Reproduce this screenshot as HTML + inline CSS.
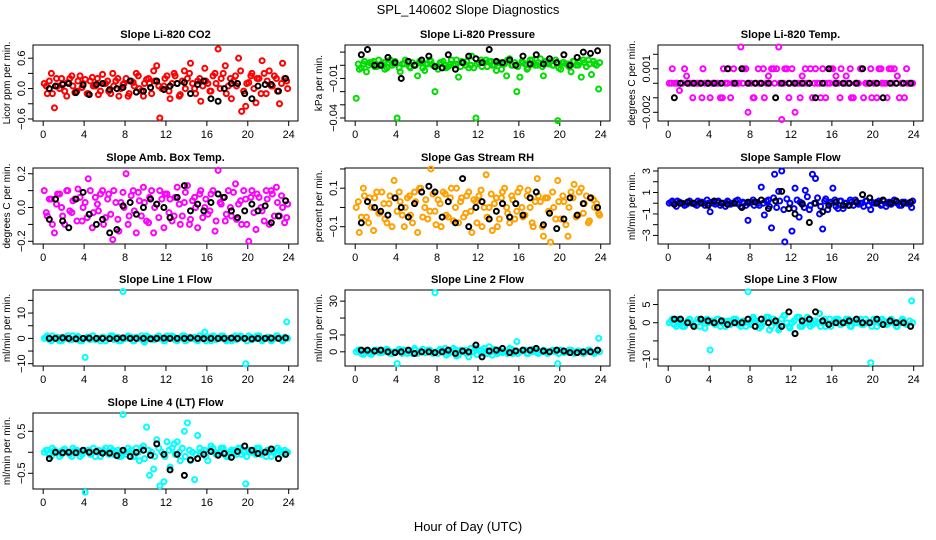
<!DOCTYPE html>
<html><head><meta charset="utf-8"><style>
body{margin:0;background:#fff;}
svg{display:block;font-family:"Liberation Sans",sans-serif;}
</style></head><body>
<svg id="chart" width="936" height="540" viewBox="0 0 936 540">
<rect x="0" y="0" width="936" height="540" fill="#fff"/>
<text x="468" y="14" text-anchor="middle" font-size="13">SPL_140602  Slope Diagnostics</text>
<text x="468" y="531" text-anchor="middle" font-size="13">Hour of Day (UTC)</text>
</svg>
<script>
const hc=[0.1,0.4,0.8,1.1,1.4,1.8,2.1,2.4,2.8,3.1,3.4,3.8,4.1,4.4,4.8,5.1,5.4,5.8,6.1,6.4,6.8,7.1,7.4,7.8,8.1,8.4,8.8,9.1,9.4,9.8,10.1,10.4,10.8,11.1,11.4,11.8,12.1,12.4,12.8,13.1,13.4,13.8,14.1,14.4,14.8,15.1,15.4,15.8,16.1,16.4,16.8,17.1,17.4,17.8,18.1,18.4,18.8,19.1,19.4,19.8,20.1,20.4,20.8,21.1,21.4,21.8,22.1,22.4,22.8,23.1,23.4,23.8];
const hc2=[0.3,0.6,0.9,1.3,1.6,1.9,2.3,2.6,2.9,3.3,3.6,3.9,4.3,4.6,4.9,5.3,5.6,5.9,6.3,6.6,6.9,7.3,7.6,7.9,8.3,8.6,8.9,9.3,9.6,9.9,10.3,10.6,10.9,11.3,11.6,11.9,12.3,12.6,12.9,13.3,13.6,13.9,14.3,14.6,14.9,15.3,15.6,15.9,16.3,16.6,16.9,17.3,17.6,17.9,18.3,18.6,18.9,19.3,19.6,19.9,20.3,20.6,20.9,21.3,21.6,21.9,22.3,22.6,22.9,23.3,23.6,23.9];
const hb=[0.6,1.2,1.9,2.5,3.2,3.9,4.5,5.2,5.8,6.5,7.2,7.8,8.5,9.1,9.8,10.5,11.1,11.8,12.4,13.1,13.8,14.4,15.1,15.7,16.4,17.1,17.7,18.4,19.0,19.7,20.4,21.0,21.7,22.3,23.0,23.7];
const xTicks=[0,4,8,12,16,20,24];

const co2C=[0.1,-0.1,0.3,-0.38,0.05,0.2,-0.05,0.12,0.25,-0.08,0.15,0.02,0.18,-0.1,0.22,0.05,-0.12,0.28,0.1,-0.05,0.3,0.15,-0.15,0.08,0.2,-0.1,0.12,0.3,0.0,-0.15,0.18,0.1,0.35,0.45,-0.58,0.05,0.25,-0.2,0.3,0.1,-0.12,0.35,0.2,0.5,0.0,0.15,-0.25,0.4,0.1,-0.05,0.3,0.78,0.2,0.45,0.05,-0.2,0.25,0.6,-0.45,-0.35,0.12,0.3,-0.28,0.2,0.55,-0.1,0.35,0.05,0.2,-0.3,0.5,0.15];
const co2C2=[0.05,0.15,-0.1,0.2,0.0,0.1,-0.15,0.2,0.05,-0.05,0.25,0.1,-0.1,0.15,0.05,0.2,-0.05,0.1,0.15,-0.1,0.05,0.2,0.0,0.1,-0.15,0.15,0.05,0.25,-0.05,0.1,0.2,-0.1,0.15,0.05,0.0,0.2,-0.05,0.1,0.25,-0.15,0.15,0.0,0.3,0.1,-0.1,0.2,0.05,0.15,-0.05,0.25,0.1,0.0,0.3,-0.1,0.2,0.15,0.05,0.35,-0.05,0.1,0.25,0.0,0.2,-0.1,0.3,0.15,0.05,0.25,-0.05,0.1,0.2,0.0];
const co2B=[0.0,0.05,0.08,0.1,-0.08,0.07,-0.12,0.08,0.1,-0.02,0.0,0.02,0.15,-0.07,-0.05,0.02,0.15,-0.02,0.05,0.1,0.12,-0.1,0.08,0.15,-0.2,-0.25,0.0,0.1,0.1,-0.1,-0.2,0.05,0.08,0.08,-0.05,0.2];
const presC=[-0.025,-0.003,0.001,-0.005,0.002,0.003,-0.001,0.0,0.002,-0.002,0.004,0.001,-0.04,-0.005,0.001,0.003,-0.002,0.0,-0.008,0.002,-0.004,0.001,0.003,-0.02,-0.003,0.002,0.0,-0.001,0.004,0.001,-0.009,0.003,0.0,-0.002,0.007,-0.04,0.002,-0.001,0.004,0.003,0.0,-0.004,0.002,0.001,-0.008,0.005,0.0,-0.02,-0.009,0.002,-0.003,0.004,0.001,0.0,0.005,-0.008,0.002,0.003,0.0,-0.042,-0.003,0.002,0.001,-0.005,0.003,0.0,-0.009,0.002,0.004,-0.007,0.001,-0.018];
const presC2=[0.001,-0.002,0.003,0.0,0.002,-0.001,0.004,0.001,-0.003,0.002,0.0,0.003,-0.002,0.001,0.004,-0.001,0.002,0.0,0.003,-0.002,0.001,0.004,0.0,-0.001,0.002,0.003,-0.002,0.001,0.0,0.004,-0.001,0.002,0.003,0.0,-0.002,0.001,0.004,0.002,-0.001,0.003,0.0,0.002,-0.003,0.001,0.004,0.0,0.002,-0.001,0.003,0.001,-0.002,0.004,0.0,0.002,-0.001,0.003,0.001,0.0,0.004,-0.002,0.002,0.001,-0.001,0.003,0.0,0.002,0.004,-0.001,0.001,0.003,0.0,0.002];
const presB=[0.008,0.012,0.0,0.0,0.006,0.002,-0.01,0.003,0.0,0.004,0.007,-0.001,-0.002,0.008,-0.003,0.002,0.007,0.005,0.002,0.012,0.003,0.002,0.004,0.0,0.007,0.001,0.008,0.001,0.005,0.002,0.008,0.0,0.006,0.01,0.009,0.011];
const tempC=[0,0.001,0,-0.0005,0,0.0005,0,-0.001,0,0,0.001,0,-0.001,0,0,-0.001,0.001,0,-0.001,0.001,0,0.0025,0.001,-0.002,0,-0.001,0.001,0,-0.001,0.0005,0.001,0,0.0025,-0.0025,0.001,-0.001,0.001,-0.002,0,0.0005,0.001,0,-0.001,0.001,0,0.001,-0.001,0,0.001,0.0005,-0.001,0,0.0005,0.001,-0.001,0,0.001,-0.001,0,0.001,0,-0.001,0.001,0,-0.001,0.001,0.001,0.0005,0,-0.001,0,0];
const tempC2=[0,0,0,0,0.001,0,0,0,0,-0.001,0,0,0,0,0,-0.001,0,0.001,0,0,0,0,0.001,0,-0.001,0,0,0.001,0,0,0.001,0.001,0,0,0.001,0,0,0,-0.001,0,0,0.001,0,0,-0.001,0,0,0.001,0,0,0.001,0,0,-0.001,0,0,0.001,0,0,-0.001,0,0.001,0,0,0.001,0,0,-0.001,0,0.001,0,0];
const tempB=[-0.001,0,0,0,0,0,0,0,0.001,0,0.001,0,0,0,0,-0.001,0,0,0,0,0,-0.001,0,0.001,0,0,0,0,0.001,0,0,-0.001,0,0,0,0];
const ambC=[0.1,-0.05,0.05,-0.15,0.08,0.0,-0.1,0.1,-0.03,0.05,0.11,-0.08,0.03,0.17,-0.12,0.06,-0.02,0.1,-0.06,0.08,-0.19,0.03,-0.14,0.09,0.2,-0.05,0.1,-0.15,0.04,0.12,-0.08,0.06,-0.15,0.02,0.1,-0.12,0.08,0.05,-0.05,0.12,-0.1,0.03,0.13,-0.07,0.06,-0.12,0.1,0.0,-0.04,0.08,-0.14,0.22,0.02,-0.08,0.1,-0.05,0.14,0.02,-0.1,0.05,-0.2,0.1,-0.13,0.06,-0.02,0.1,-0.1,0.08,0.12,-0.05,0.0,-0.06];
const ambC2=[-0.03,0.05,-0.1,0.02,0.08,-0.05,0.1,-0.02,0.04,-0.08,0.06,0.0,-0.06,0.1,-0.03,0.02,0.08,-0.1,0.05,-0.04,0.1,-0.07,0.03,0.0,-0.1,0.07,-0.02,0.09,-0.05,0.03,-0.09,0.1,0.0,-0.06,0.05,0.08,-0.03,-0.08,0.06,0.02,-0.05,0.09,-0.1,0.04,0.0,0.08,-0.06,0.05,-0.02,0.1,-0.08,0.03,0.06,-0.04,0.0,0.09,-0.07,0.04,0.1,-0.1,0.06,-0.03,0.08,0.0,-0.08,0.05,0.1,-0.05,0.03,0.07,-0.09,0.02];
const ambB=[-0.07,0.05,-0.08,-0.12,0.05,0.09,-0.04,-0.1,-0.07,-0.15,-0.13,0.01,0.03,-0.04,0.0,0.05,0.02,0.0,-0.06,0.06,0.13,-0.02,0.02,-0.02,0.03,0.08,0.06,-0.02,-0.06,-0.02,0.02,-0.02,0.01,-0.09,-0.05,0.04];
const rhC=[0.0,-0.13,0.1,-0.05,0.05,-0.12,0.08,-0.03,0.02,-0.08,0.06,0.14,-0.02,0.03,-0.1,0.05,-0.04,0.08,-0.13,0.1,0.0,-0.06,0.2,-0.02,0.04,-0.1,0.07,-0.05,0.1,0.0,-0.08,0.05,-0.03,0.08,-0.13,0.03,0.06,-0.1,0.17,0.0,-0.12,0.05,-0.06,0.08,0.0,-0.08,0.04,-0.02,0.1,-0.05,0.06,0.0,-0.1,0.15,0.03,-0.15,0.05,-0.18,0.0,0.14,-0.06,0.03,-0.15,0.08,0.12,-0.04,0.1,0.02,-0.08,0.05,0.0,-0.03];
const rhC2=[0.03,-0.05,0.06,-0.08,0.0,0.05,-0.03,0.08,-0.06,0.02,-0.1,0.05,0.08,-0.04,0.0,0.06,-0.08,0.03,0.1,-0.05,0.04,-0.02,0.07,-0.09,0.02,0.08,-0.04,0.05,-0.07,0.1,0.03,-0.05,0.06,-0.02,0.04,-0.08,0.09,0.0,-0.05,0.07,0.02,-0.1,0.05,0.1,-0.03,0.06,-0.06,0.08,0.0,-0.04,0.09,-0.08,0.03,0.06,-0.1,0.05,-0.02,0.08,-0.06,0.03,0.06,-0.09,0.0,0.05,-0.05,0.08,-0.03,0.06,-0.07,0.04,0.02,-0.04];
const rhB=[-0.08,0.03,0.0,-0.02,-0.04,0.05,0.0,-0.05,0.02,0.08,0.11,0.08,-0.05,0.03,-0.08,0.15,-0.1,0.0,0.03,-0.06,-0.02,0.02,-0.05,0.02,-0.04,0.05,0.08,-0.09,-0.03,-0.11,-0.06,0.05,-0.04,0.02,0.05,0.0];
const sampC=[0.0,0.2,-0.3,0.1,0.0,-0.1,0.2,0.0,-0.2,0.1,0.0,0.3,-0.8,0.0,0.1,-0.2,0.0,0.2,-0.1,0.0,0.3,-0.3,0.0,-1.6,0.1,-0.2,0.0,1.5,-1.1,0.3,-2.3,2.7,1.1,3.0,-3.6,-0.5,-2.6,1.4,-1.3,0.0,1.2,-0.6,2.7,2.3,-1.0,-2.4,0.4,0.0,1.4,-0.3,0.2,-0.5,0.0,0.3,-0.2,0.1,0.0,-0.3,0.2,-0.6,0.0,0.1,-0.2,0.2,0.0,-0.1,0.3,0.0,-0.2,0.1,0.0,-0.4];
const sampC2=[0.1,-0.1,0.2,0.0,-0.2,0.1,0.0,-0.1,0.2,0.1,-0.2,0.0,0.1,-0.1,0.2,0.0,-0.3,0.1,0.0,0.2,-0.1,0.1,-0.2,0.0,0.3,0.1,-0.2,0.0,0.2,-0.3,0.5,-0.4,0.2,-0.6,0.4,0.0,-0.5,0.3,0.1,-0.4,0.6,-0.2,0.0,0.5,-0.3,0.2,-0.6,0.1,0.3,-0.5,0.2,0.0,-0.2,0.1,0.3,-0.1,0.0,0.2,-0.2,0.1,0.0,0.2,-0.1,-0.3,0.1,0.0,0.2,-0.2,0.1,0.0,-0.1,0.2];
const sampB=[-0.1,0.0,0.1,0.0,0.0,-0.2,0.2,0.0,-0.1,0.0,-0.4,0.1,0.1,0.3,-0.5,0.2,1.1,-0.5,-1.0,-0.1,-1.8,0.0,-0.8,-0.2,0.1,-0.2,-0.2,0.1,0.8,0.5,0.0,0.3,0.0,0.2,0.0,0.1];
const l1C=[0,1,-1,0,0.5,-1,0,1,-0.5,0,0.8,-1,-7.5,0,1,-0.5,0,0.5,-1,0,1,0,-1,18.5,0,0.5,-1,0.5,0,-1,1,0,-0.5,0.5,0,-1,1,0,0.5,-1,0,1,-0.5,0,0.5,-1,0,2.5,0,-1,0.5,0,1,-0.5,0,-1,1,0,0.5,-10,1,-0.5,0,1,-1,0,0.5,-0.5,1,0,-1,6.5];
const l1C2=[0.5,-0.5,1,0,-1,0.5,0,-0.5,1,0.5,-1,0,0.5,-0.5,1,0,-1,0.5,0,1,-0.5,0.5,-1,0,1,0.5,-1,0,1,-1.5,0.5,0,-0.5,1,0,-1,0.5,1,-0.5,0,1,-1,0.5,0,-0.5,1,0,-1,0.5,1,-0.5,0,1,-1,0,0.5,-0.5,1,0,-1,0.5,0,1,-0.5,0,0.5,-1,0,1,-0.5,0.5,0];
const l1B=[0,0,0.2,0,-0.2,0,0.1,0,0,-0.1,0,0.2,0,0,0,-0.2,0,0.1,0,0,0,0.2,0,-0.1,0,0,0,0.1,0,0,-0.2,0,0,0.1,0,0.2];
const l2C=[0,1,-1.5,0.5,-1,0,1,-0.5,0,1.5,-1,0,-7,0.5,1,-1,0,2,-1,0.5,-0.5,1,0,35,-1,0.5,2,-1,0,1,-2,0.5,1,-3,0,2,1,-1,0.5,3,-2,0,1,-0.5,0,2,-1,6,0,1,-1,0.5,1.5,-0.5,0,1,-1,0,0.5,-7,1,-0.5,0,1,-1,0.5,0,-0.5,1,0,-1,8];
const l2C2=[1,-1,0.5,0,-1.5,1,0,-0.5,1,0.5,-1,0,1.5,-1,0.5,0,-1,1,0,1.5,-0.5,1,-1,0,1.5,0.5,-2,0,2,-2.5,1,0,-1,2,0,-1.5,1,2,-1,0,1.5,-1,0.5,0,-1,1.5,0,-1,0.5,1,-1,0,1.5,-1,0,0.5,-0.5,1,0,-1,0.5,0,1,-0.5,0,0.5,-1,0,1,-0.5,0.5,0];
const l2B=[1,1,0.5,1,0,-0.5,0,1,-1,0,0,-0.5,0,1,-1,0.5,0,4,-3,0.5,1,2,-0.5,0.5,1,1,2,0.5,0,1,0.5,-0.5,-0.5,0,0,1];
const l3C=[0,1,-1,0.5,-1,0,1,-0.5,0,-1,0.5,1,-7.5,0,1,-1,0.5,0,-0.5,1,0,-1,0,8.5,-0.5,1,0,-1,0.5,1.5,-1,0,-2,1,2,-1,0,-3,1.5,-1,0,1,-0.5,0.5,2.5,0,-1,1,0,1,-0.5,0,1,-1,0.5,0,1,-0.5,0,-11,1,-1,0,0.5,-0.5,1,0,-1,0.5,0,-0.5,6];
const l3C2=[0.5,-0.5,1,0,-1,0.5,0,-1,1,0.5,-1.5,0,0.5,-0.5,1,0,-1,0.5,0,1,-0.5,0.5,-1,0,1.5,0.5,-1.5,0,1.5,-2,1,0,-1.5,2,0,-1.5,0.5,1.5,-1,0,1.5,-1,0.5,0,-1,1,0,-1,0.5,1,-0.5,0,1,-1,0,0.5,-0.5,1,0,-1,0.5,0,1,-0.5,0,0.5,-1,0,1,-0.5,0.5,0];
const l3B=[1,1,0,-1,1,0.5,0,0.5,-0.5,0,0,1,-1,1,0,0.5,-1,3,-3,0.5,1,3,0.5,-0.5,0,0,0.5,1,0,0,1,-0.5,0.5,0,0,-1];
const l4C=[0,0.05,-0.1,0.05,0,-0.05,0.08,0,-0.1,0.05,0,-0.05,-0.95,0.05,0,-0.1,0.05,0,0.1,-0.05,0.05,0,-0.1,0.9,-0.05,0,-0.1,0.1,-0.2,0.15,0.6,-0.55,-0.4,0.3,-0.8,-0.7,0.25,-0.35,0.2,0.25,-0.2,0.5,0.7,-0.2,-0.65,0.4,0,0.05,-0.2,0.15,0,-0.05,0.1,0,-0.1,0.05,0,0.1,-0.05,-0.75,0.05,0,-0.05,0.1,0,-0.1,0.05,0,-0.05,0.05,0,0];
const l4C2=[0.05,-0.05,0.1,0,-0.1,0.05,0,-0.05,0.1,0.05,-0.1,0,0.05,-0.05,0.1,0,-0.1,0.05,0,0.1,-0.05,0.05,-0.1,0,0.1,0.05,-0.1,0,0.1,-0.15,0.05,0,-0.1,0.1,0,-0.1,0.05,0.1,-0.05,0,0.1,-0.1,0.05,0,-0.05,0.1,0,-0.1,0.05,0.1,-0.05,0,0.1,-0.1,0,0.05,-0.05,0.1,0,-0.1,0.05,0,0.1,-0.05,0,0.05,-0.1,0,0.1,-0.05,0.05,0];
const l4B=[-0.15,0.0,-0.01,0.0,-0.01,0.05,0.0,0.02,-0.02,-0.02,-0.08,0.05,-0.1,0.0,0.05,-0.07,0.2,-0.05,-0.42,-0.05,-0.55,-0.18,-0.15,-0.05,0.02,-0.07,-0.03,-0.12,0.02,0.15,0.05,-0.03,0.0,0.08,-0.15,-0.05];

const panels=[
 {name:'co2',title:'Slope Li-820 CO2',ylab:'Licor ppm per min.',col:0,row:0,ymin:-0.64,ymax:0.86,ticks:[-0.6,-0.3,0,0.3,0.6],labs:{'-0.6':'-0.6','0':'0.0','0.6':'0.6'},color:'#ff0000',c:co2C,c2:co2C2,b:co2B},
 {name:'pressure',title:'Slope Li-820 Pressure',ylab:'kPa per min.',col:1,row:0,ymin:-0.0423,ymax:0.0154,ticks:[-0.04,-0.03,-0.02,-0.01,0,0.01],labs:{'-0.04':'-0.04','-0.01':'-0.01'},color:'#00dd00',c:presC,c2:presC2,b:presB},
 {name:'temp',title:'Slope Li-820 Temp.',ylab:'degrees C per min.',col:2,row:0,ymin:-0.0026,ymax:0.00264,ticks:[-0.002,-0.001,0,0.001,0.002],labs:{'-0.002':'-0.002','0.001':'0.001'},color:'#ff00ff',c:tempC,c2:tempC2,b:tempB},
 {name:'amb-box-temp',title:'Slope Amb. Box Temp.',ylab:'degrees C per min.',col:0,row:1,ymin:-0.216,ymax:0.234,ticks:[-0.2,-0.1,0,0.1,0.2],labs:{'-0.2':'-0.2','0':'0.0','0.2':'0.2'},color:'#ff00ff',c:ambC,c2:ambC2,b:ambB},
 {name:'gas-rh',title:'Slope Gas Stream RH',ylab:'percent per min.',col:1,row:1,ymin:-0.19,ymax:0.205,ticks:[-0.1,0,0.1,0.2],labs:{'-0.1':'-0.1','0.1':'0.1'},color:'#ffa000',c:rhC,c2:rhC2,b:rhB},
 {name:'sample-flow',title:'Slope Sample Flow',ylab:'ml/min per min.',col:2,row:1,ymin:-3.8,ymax:3.28,ticks:[-3,-2,-1,0,1,2,3],labs:{'-3':'-3','-1':'-1','1':'1','3':'3'},color:'#0000ff',c:sampC,c2:sampC2,b:sampB},
 {name:'line1-flow',title:'Slope Line 1 Flow',ylab:'ml/min per min.',col:0,row:2,ymin:-10.9,ymax:19.1,ticks:[-10,-5,0,5,10,15],labs:{'-10':'-10','0':'0','10':'10'},color:'#00ffff',c:l1C,c2:l1C2,b:l1B},
 {name:'line2-flow',title:'Slope Line 2 Flow',ylab:'ml/min per min.',col:1,row:2,ymin:-8.4,ymax:36.6,ticks:[0,10,20,30],labs:{'0':'0','10':'10','30':'30'},color:'#00ffff',c:l2C,c2:l2C2,b:l2B},
 {name:'line3-flow',title:'Slope Line 3 Flow',ylab:'ml/min per min.',col:2,row:2,ymin:-11.9,ymax:9,ticks:[-10,-5,0,5],labs:{'-10':'-10','0':'0','5':'5'},color:'#00ffff',c:l3C,c2:l3C2,b:l3B},
 {name:'line4-flow',title:'Slope Line 4 (LT) Flow',ylab:'ml/min per min.',col:0,row:3,ymin:-0.874,ymax:0.936,ticks:[-0.5,0,0.5],labs:{'-0.5':'-0.5','0.5':'0.5'},color:'#00ffff',c:l4C,c2:l4C2,b:l4B}
];
const svg=document.getElementById('chart');
const NS='http://www.w3.org/2000/svg';
function mk(tag,attrs,parent){const e=document.createElementNS(NS,tag);for(const k in attrs)e.setAttribute(k,attrs[k]);parent.appendChild(e);return e;}
const boxLefts=[33,345,658], boxTops=[45,168,290,413], BW=265, BH=76;
panels.forEach(p=>{
  const L=boxLefts[p.col], T=boxTops[p.row];
  const g=mk('g',{},svg);
  
  
  const xs=h=>L+10.2+h*(245.5/24);
  const ys=v=>T+BH-(v-p.ymin)/(p.ymax-p.ymin)*BH;
  const t=mk('text',{x:L+BW/2,y:T-7,'text-anchor':'middle','font-size':'11','font-weight':'bold'},g);
  t.textContent=p.title;
  
  
  const yl=mk('text',{x:0,y:0,'text-anchor':'middle','font-size':'10',transform:`translate(${L-23},${T+BH/2}) rotate(-90)`},g);
  yl.textContent=p.ylab;
  
  
  const xa=mk('g',{},g);
  
  
  mk('line',{x1:xs(0),x2:xs(24),y1:T+BH,y2:T+BH,stroke:'#000'},xa);
  xTicks.forEach(v=>{
    mk('line',{x1:xs(v),x2:xs(v),y1:T+BH,y2:T+BH+5,stroke:'#000'},xa);
    const tx=mk('text',{x:xs(v),y:T+BH+17,'text-anchor':'middle','font-size':'11'},xa);
    tx.textContent=v;
    
    
  });
  const ya=mk('g',{},g);
  
  
  const tk=p.ticks;
  mk('line',{x1:L,x2:L,y1:ys(tk[0]),y2:ys(tk[tk.length-1]),stroke:'#000'},ya);
  tk.forEach(v=>{
    mk('line',{x1:L-5,x2:L,y1:ys(v),y2:ys(v),stroke:'#000'},ya);
    const lab=p.labs[String(v)];
    if(lab!==undefined){
      const ty=mk('text',{x:0,y:0,'text-anchor':'middle','font-size':'11',transform:`translate(${L-8},${ys(v)}) rotate(-90)`},ya);
      ty.textContent=lab.replace('-','\u2212');
      
      
    }
  });
  const box=mk('rect',{x:L,y:T,width:BW,height:BH,fill:'none',stroke:'#000'},g);
  
  
  const cg=mk('g',{fill:'none',stroke:p.color,'stroke-width':'2'},g);
  
  
  const n2=Math.min(hc2.length,p.c2.length);
  for(let i=0;i<n2;i++){
    const c=mk('circle',{cx:xs(hc2[i]),cy:ys(p.c2[i]),r:2.5},cg);
    
    
  }
  const n=Math.min(hc.length,p.c.length);
  for(let i=0;i<n;i++){
    const c=mk('circle',{cx:xs(hc[i]),cy:ys(p.c[i]),r:2.5},cg);
    
    
  }
  const bg=mk('g',{fill:'none',stroke:'#000','stroke-width':'2'},g);
  
  
  const m=Math.min(hb.length,p.b.length);
  for(let i=0;i<m;i++){
    const c=mk('circle',{cx:xs(hb[i]),cy:ys(p.b[i]),r:2.5},bg);
    
    
  }
});
</script>
</body></html>
